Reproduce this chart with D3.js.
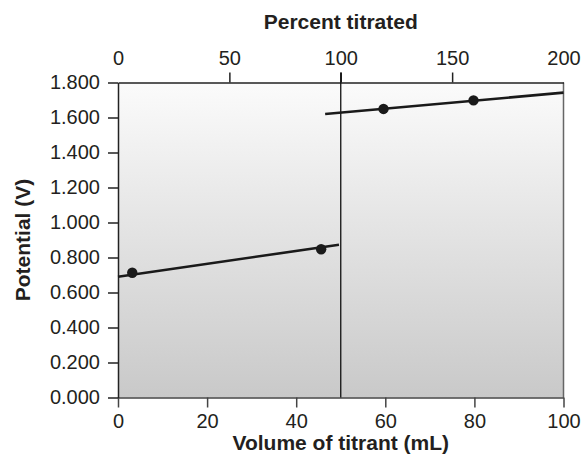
<!DOCTYPE html>
<html><head><meta charset="utf-8">
<script src="https://cdn.jsdelivr.net/npm/d3@7"></script>
<style>html,body{margin:0;padding:0;background:#fff;}</style>
</head><body>
<svg id="c" width="585" height="461"></svg>
<script>
// Data
const volumeTicks = [0, 20, 40, 60, 80, 100];
const percentTicks = [0, 50, 100, 150, 200];
const potentialTicks = [0, 0.2, 0.4, 0.6, 0.8, 1.0, 1.2, 1.4, 1.6, 1.8];
const pointVolumes = [3.2, 45.6, 59.6, 79.8];
const pointPotentials = [0.713, 0.847, 1.649, 1.698];
const line1Volumes = [0, 49.6];
const line1Potentials = [0.690, 0.873];
const line2Volumes = [46.5, 100];
const line2Potentials = [1.620, 1.742];
const equivalenceVolume = [50];

const svg = d3.select("#c");
const L = 118, R = 563.5, T = 82.5, B = 397.5;
const x = d3.scaleLinear().domain([0, 100]).range([L, R]);
const xp = d3.scaleLinear().domain([0, 200]).range([L, R]);
const y = d3.scaleLinear().domain([0, 1.8]).range([B, T]);
const font = "'Liberation Sans', Arial, Helvetica, sans-serif";
const textColor = "#231f20";

const defs = svg.append("defs");
const grad = defs.append("linearGradient").attr("id", "g").attr("x1", 0).attr("y1", 0).attr("x2", 0).attr("y2", 1);
grad.append("stop").attr("offset", "0%").attr("stop-color", "#fbfbfb");
grad.append("stop").attr("offset", "100%").attr("stop-color", "#c9c9c9");

svg.append("rect").attr("x", L).attr("y", T).attr("width", R - L).attr("height", B - T).attr("fill", "url(#g)");

// right border
svg.append("line").attr("x1", R).attr("x2", R).attr("y1", T).attr("y2", B).attr("stroke", "#666").attr("stroke-width", 1.5);

function styleAxis(g, color) {
  g.selectAll("path").attr("stroke", color).attr("stroke-width", 1.5);
  g.selectAll("line").attr("stroke", color).attr("stroke-width", 1.5);
  g.selectAll("text").attr("fill", textColor).attr("font-family", font).attr("font-size", "20px");
}

const gx = svg.append("g").attr("transform", `translate(0,${B})`)
  .call(d3.axisBottom(x).tickValues(volumeTicks).tickSize(10).tickSizeOuter(0).tickPadding(6));
styleAxis(gx, "#444");

const gt = svg.append("g").attr("transform", `translate(0,${T})`)
  .call(d3.axisTop(xp).tickValues(percentTicks).tickSize(10).tickSizeOuter(0).tickPadding(8));
styleAxis(gt, "#222");
gt.selectAll(".tick").filter(d => d === 0 || d === 200).select("line").remove();

const gy = svg.append("g").attr("transform", `translate(${L},0)`)
  .call(d3.axisLeft(y).tickValues(potentialTicks).tickSize(10).tickSizeOuter(0).tickPadding(8).tickFormat(d3.format(".3f")));
styleAxis(gy, "#222");

// vertical equivalence line
svg.selectAll(".eq").data(equivalenceVolume).enter().append("line")
  .attr("x1", d => x(d)).attr("x2", d => x(d)).attr("y1", T - 10).attr("y2", B)
  .attr("stroke", "#111").attr("stroke-width", 1.3);

const lineGen = d3.line().x(d => x(d[0])).y(d => y(d[1]));
[[line1Volumes, line1Potentials], [line2Volumes, line2Potentials]].forEach(([vs, ps]) => {
  svg.append("path").datum(vs.map((v, i) => [v, ps[i]])).attr("d", lineGen)
    .attr("fill", "none").attr("stroke", "#1a1a1a").attr("stroke-width", 2.6);
});

svg.selectAll(".pt").data(pointVolumes.map((v, i) => [v, pointPotentials[i]])).enter().append("circle")
  .attr("cx", d => x(d[0])).attr("cy", d => y(d[1])).attr("r", 5.2).attr("fill", "#1a1a1a");

// titles
svg.append("text").attr("x", (L + R) / 2).attr("y", 29).attr("text-anchor", "middle")
  .attr("font-family", font).attr("font-weight", "bold").attr("font-size", "21px").attr("fill", textColor)
  .text("Percent titrated");
svg.append("text").attr("x", (L + R) / 2).attr("y", 450).attr("text-anchor", "middle")
  .attr("font-family", font).attr("font-weight", "bold").attr("font-size", "21px").attr("fill", textColor)
  .text("Volume of titrant (mL)");
svg.append("text").attr("transform", `translate(30,${(T + B) / 2}) rotate(-90)`).attr("text-anchor", "middle")
  .attr("font-family", font).attr("font-weight", "bold").attr("font-size", "21px").attr("fill", textColor)
  .text("Potential (V)");
</script>
</body></html>
